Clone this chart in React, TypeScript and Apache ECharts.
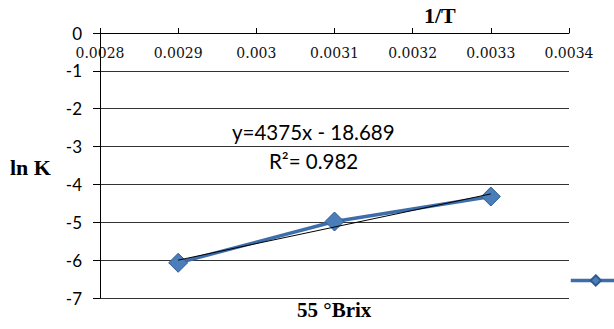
import React, { useEffect, useRef } from "react";
import * as echarts from "echarts";

const xTickLabels = ["0.0028", "0.0029", "0.003", "0.0031", "0.0032", "0.0033", "0.0034"];
const yTickLabels = ["-7", "-6", "-5", "-4", "-3", "-2", "-1", "0"];
const invT = [0.0029, 0.0031, 0.0033];
const lnK = [-6.07, -4.98, -4.32];
const trendX = [0.0029, 0.0033];
const trendY = [-6.0, -4.25];
const seriesName = "55 °Brix";
const xTitle = "1/T";
const yTitle = "ln K";
const chartTitle = "55 °Brix";
const equation = "y=4375x - 18.689";
const rSquared = "R²= 0.982";

export default function App() {
  const ref = useRef<HTMLDivElement>(null);
  useEffect(() => {
    const chart = echarts.init(ref.current!, undefined, { renderer: "svg" });
    const xMin = 0.0028;
    const xStep = 0.0001;
    chart.setOption({
      animation: false,
      backgroundColor: "#ffffff",
      grid: { left: 100, right: 45, top: 33, bottom: 31 },
      xAxis: {
        type: "value",
        position: "top",
        min: xMin,
        max: 0.0034,
        interval: xStep,
        axisLine: { show: true, onZero: false, lineStyle: { color: "#000", width: 1 } },
        axisTick: { show: true, inside: false, length: 5, lineStyle: { color: "#000" } },
        splitLine: { show: false },
        axisLabel: {
          inside: true,
          margin: 13,
          color: "#111",
          fontFamily: "DejaVu Serif",
          fontSize: 14,
          formatter: (v: number) => xTickLabels[Math.round((v - xMin) / xStep)] ?? "",
        },
      },
      yAxis: {
        type: "value",
        min: -7,
        max: 0,
        interval: 1,
        axisLine: { show: true, lineStyle: { color: "#000", width: 1 } },
        axisTick: { show: true, inside: false, length: 7, lineStyle: { color: "#000" } },
        splitLine: { show: true, lineStyle: { color: "#333", width: 1 } },
        axisLabel: {
          margin: 18,
          color: "#000",
          fontFamily: "Lato",
          fontSize: 17,
          formatter: (v: number) => yTickLabels[Math.round(v + 7)] ?? "",
        },
      },
      legend: {
        show: true,
        data: [seriesName],
        left: 569,
        top: 274,
        padding: 0,
        itemWidth: 50,
        itemHeight: 13,
        itemGap: 0,
        lineStyle: { width: 3.5 },
        formatter: () => "",
        textStyle: { fontSize: 1 },
      },
      graphic: [
        { type: "text", left: 424, top: 4, style: { text: xTitle, font: "bold 22px 'Liberation Serif'", fill: "#000" } },
        { type: "text", left: 10, top: 156, style: { text: yTitle, font: "bold 22px 'Liberation Serif'", fill: "#000" } },
        { type: "text", left: 297, top: 299, style: { text: chartTitle, font: "bold 21px 'Liberation Serif'", fill: "#000" } },
        { type: "text", left: 232, top: 121, style: { text: equation, font: "20.5px Lato", fill: "#000" } },
        { type: "text", left: 269, top: 150, style: { text: rSquared, font: "20.5px Lato", fill: "#000" } },
      ],
      series: [
        {
          name: seriesName,
          type: "line",
          data: invT.map((x, i) => [x, lnK[i]]),
          symbol: "diamond",
          symbolSize: 19,
          lineStyle: { color: "#3D6DAA", width: 3.5 },
          itemStyle: { color: "#4A7EBB", borderColor: "#2F5A8E", borderWidth: 1 },
          z: 2,
        },
        {
          name: "trend",
          type: "line",
          data: trendX.map((x, i) => [x, trendY[i]]),
          symbol: "none",
          lineStyle: { color: "#000", width: 1 },
          z: 3,
        },
      ],
    });
    return () => chart.dispose();
  }, []);
  return <div ref={ref} style={{ width: 614, height: 329, position: "absolute", left: 0, top: 0 }} />;
}
